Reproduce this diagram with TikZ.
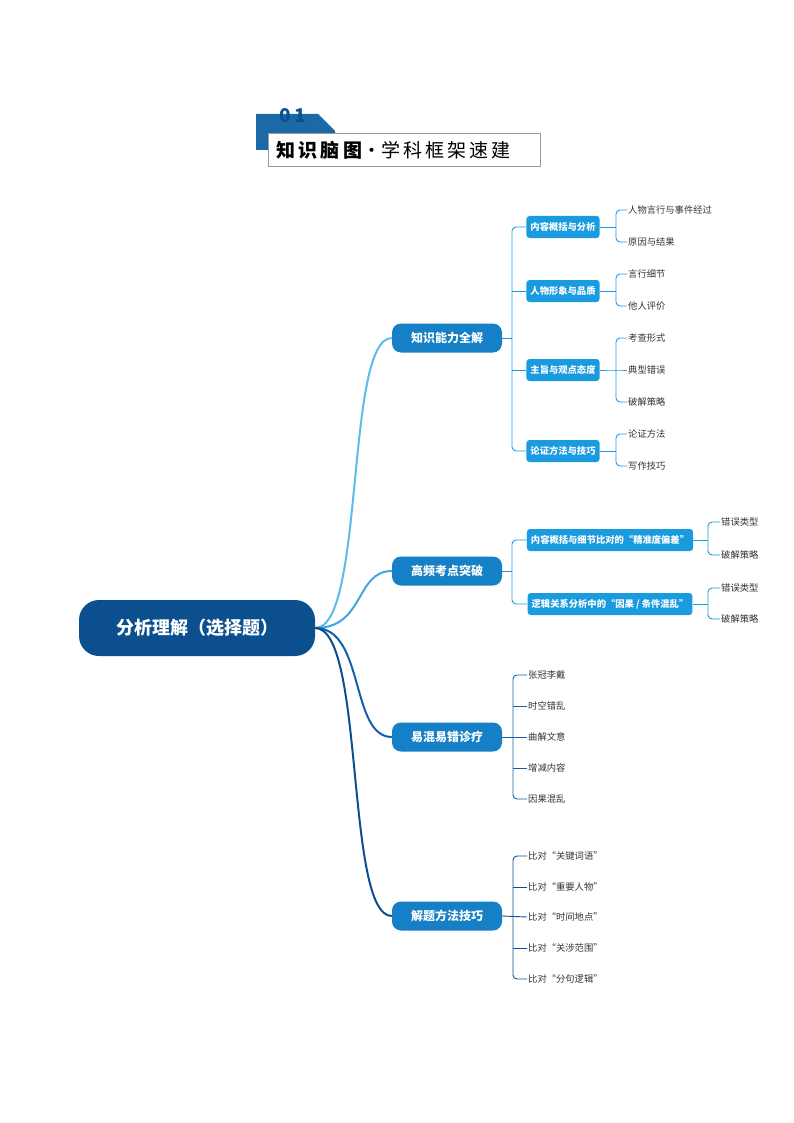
\documentclass[tikz,border=0pt]{standalone}
\usepackage{fontspec}
\setmainfont{Noto Sans CJK SC}
\definecolor{root}{HTML}{0B4F8F}
\definecolor{lone}{HTML}{1580C6}
\definecolor{ltwo}{HTML}{1A9BE0}
\definecolor{cA}{HTML}{5BBCEA}
\definecolor{cB}{HTML}{3FA6E0}
\definecolor{cC}{HTML}{1560A8}
\definecolor{cD}{HTML}{0B4F8F}
\begin{document}
\begin{tikzpicture}[x=1pt,y=-1pt,
 L1/.style={fill=lone,rounded corners=9pt,text=white,font=\bfseries\fontsize{12}{14}\selectfont,minimum width=110pt,minimum height=29pt,inner sep=2pt},
 L2/.style={fill=ltwo,rounded corners=3pt,text=white,font=\bfseries\fontsize{9.3}{11}\selectfont,minimum height=22pt,inner sep=4pt},
 lf/.style={anchor=west,font=\fontsize{9.3}{11}\selectfont,text=black!80,inner sep=1pt},
 br/.style={draw=#1,line width=0.9pt,rounded corners=4pt}]
\useasboundingbox (0,0) rectangle (794,1123);
% header
\fill[color=root!70!cB] (256,114) -- (318,114) -- (335,131) -- (335,145) -- (272,145) -- (272,150) -- (256,150) -- cycle;
\node[font=\bfseries\fontsize{19}{20}\selectfont,text=root] (num) at (293,116) {0\,1};
\node[draw=black!40,fill=white,minimum width=272pt,minimum height=33pt,anchor=west,inner sep=0pt] (hdr) at (268,150) {};
\node[anchor=west,font=\fontsize{19}{21}\selectfont] (ht) at (273,150) {\textbf{知\,识\,脑\,图}·学\,科\,框\,架\,速\,建};
% root
\node[fill=root,rounded corners=20pt,minimum width=236pt,minimum height=56pt,text=white,font=\bfseries\fontsize{18}{20}\selectfont] (r) at (197,628) {分析理解（选择题）};
% level 1
\node[L1] (a) at (447,338) {知识能力全解};
\node[L1] (b) at (447,571) {高频考点突破};
\node[L1] (c) at (447,737) {易混易错诊疗};
\node[L1] (d) at (447,916) {解题方法技巧};
\draw[cA,line width=2pt] (r.east) .. controls (365,628) and (345,338) .. (a.west);
\draw[cB,line width=2pt] (r.east) .. controls (365,628) and (355,571) .. (b.west);
\draw[cC,line width=2pt] (r.east) .. controls (365,628) and (350,737) .. (c.west);
\draw[cD,line width=2pt] (r.east) .. controls (365,628) and (345,916) .. (d.west);
% level 2 of a
\node[L2] (a1) at (563,227) {内容概括与分析};
\node[L2] (a2) at (563,291) {人物形象与品质};
\node[L2] (a3) at (563,370) {主旨与观点态度};
\node[L2] (a4) at (563,451) {论证方法与技巧};
\draw[br=ltwo] (a.east) -- (512,338);
\draw[br=ltwo] (a1.west) -- (512,227) -- (512,451) -- (a4.west);
\draw[br=ltwo] (512,291) -- (a2.west) (512,370) -- (a3.west);
% leaves of a
\node[lf] (a11) at (627,210) {人物言行与事件经过};
\node[lf] (a12) at (627,242) {原因与结果};
\node[lf] (a21) at (627,274) {言行细节};
\node[lf] (a22) at (627,306) {他人评价};
\node[lf] (a31) at (627,338) {考查形式};
\node[lf] (a32) at (627,370) {典型错误};
\node[lf] (a33) at (627,402) {破解策略};
\node[lf] (a41) at (627,434) {论证方法};
\node[lf] (a42) at (627,466) {写作技巧};
\draw[br=ltwo] (a1.east) -- (616,227);
\draw[br=ltwo] (a11.west) -- (616,210) -- (616,242) -- (a12.west);
\draw[br=ltwo] (a2.east) -- (616,291);
\draw[br=ltwo] (a21.west) -- (616,274) -- (616,306) -- (a22.west);
\draw[br=ltwo] (a3.east) -- (616,370) -- (a32.west);
\draw[br=ltwo] (a31.west) -- (616,338) -- (616,402) -- (a33.west);
\draw[br=ltwo] (a4.east) -- (616,451);
\draw[br=ltwo] (a41.west) -- (616,434) -- (616,466) -- (a42.west);
% b
\node[L2] (b1) at (610,540) {内容概括与细节比对的“精准度偏差”};
\node[L2] (b2) at (610,604) {逻辑关系分析中的“因果 / 条件混乱”};
\draw[br=ltwo] (b.east) -- (512,571);
\draw[br=ltwo] (b1.west) -- (512,540) -- (512,604) -- (b2.west);
\node[lf] (b11) at (720,522) {错误类型};
\node[lf] (b12) at (720,555) {破解策略};
\node[lf] (b21) at (720,588) {错误类型};
\node[lf] (b22) at (720,619) {破解策略};
\draw[br=ltwo] (b1.east) -- (708,540);
\draw[br=ltwo] (b11.west) -- (708,522) -- (708,555) -- (b12.west);
\draw[br=ltwo] (b2.east) -- (708,604);
\draw[br=ltwo] (b21.west) -- (708,588) -- (708,619) -- (b22.west);
% c
\node[lf] (c1) at (527,675) {张冠李戴};
\node[lf] (c2) at (527,706) {时空错乱};
\node[lf] (c3) at (527,737) {曲解文意};
\node[lf] (c4) at (527,768) {增减内容};
\node[lf] (c5) at (527,799) {因果混乱};
\draw[br=cC] (c.east) -- (c3.west);
\draw[br=cC] (c1.west) -- (513,675) -- (513,799) -- (c5.west);
\draw[br=cC] (513,706) -- (c2.west) (513,768) -- (c4.west);
% d
\node[lf] (d1) at (527,856) {比对“关键词语”};
\node[lf] (d2) at (527,887) {比对“重要人物”};
\node[lf] (d3) at (527,917) {比对“时间地点”};
\node[lf] (d4) at (527,948) {比对“关涉范围”};
\node[lf] (d5) at (527,979) {比对“分句逻辑”};
\draw[br=cD] (d.east) -- (d3.west);
\draw[br=cD] (d1.west) -- (513,856) -- (513,979) -- (d5.west);
\draw[br=cD] (513,887) -- (d2.west) (513,948) -- (d4.west);
\end{tikzpicture}
\end{document}
